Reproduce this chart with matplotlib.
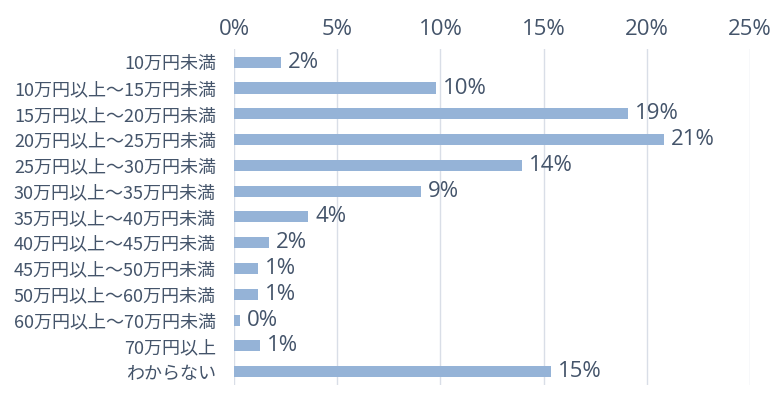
import matplotlib.pyplot as plt
from matplotlib.ticker import PercentFormatter

categories = ['10万円未満', '10万円以上～15万円未満', '15万円以上～20万円未満',
              '20万円以上～25万円未満', '25万円以上～30万円未満', '30万円以上～35万円未満',
              '35万円以上～40万円未満', '40万円以上～45万円未満', '45万円以上～50万円未満',
              '50万円以上～60万円未満', '60万円以上～70万円未満', '70万円以上', 'わからない']
values = [2.28, 9.78, 19.1, 20.83, 13.96, 9.06, 3.59, 1.7, 1.18, 1.18, 0.29, 1.27, 15.37]
xticks = [0, 5, 10, 15, 20, 25]

plt.rcParams['font.family'] = ['Noto Sans CJK JP', 'DejaVu Sans']
text_color = '#44546a'
num_font = ['Open Sans', 'DejaVu Sans']

fig = plt.figure(figsize=(7.8, 4.01), dpi=100)
ax = fig.add_axes([0.3, 0.041, 0.6615, 0.836])

y = list(range(len(categories)))
bars = ax.barh(y, values, height=0.43, color='#95b3d7', zorder=3)
ax.set_ylim(len(categories) - 0.5, -0.5)
ax.set_xlim(0, 25)
ax.set_yticks(y)
ax.set_yticklabels(categories, fontsize=13, color=text_color)
ax.set_xticks(xticks)
ax.xaxis.set_major_formatter(PercentFormatter(decimals=0))
ax.xaxis.tick_top()
ax.tick_params(axis='x', length=0, pad=7, labelsize=16, labelcolor=text_color)
for t in ax.get_xticklabels():
    t.set_family(num_font)
ax.tick_params(axis='y', length=0, pad=13)
ax.grid(axis='x', color='#d9dee7', linewidth=1, zorder=0)
for s in ax.spines.values():
    s.set_visible(False)

for b, v in zip(bars, values):
    ax.annotate(f'{v:.0f}%', (b.get_width(), b.get_y() + b.get_height() / 2),
                xytext=(5, 0), textcoords='offset points', va='center', ha='left',
                fontsize=16, color=text_color, family=num_font)

fig.savefig('out.png', dpi=100)
